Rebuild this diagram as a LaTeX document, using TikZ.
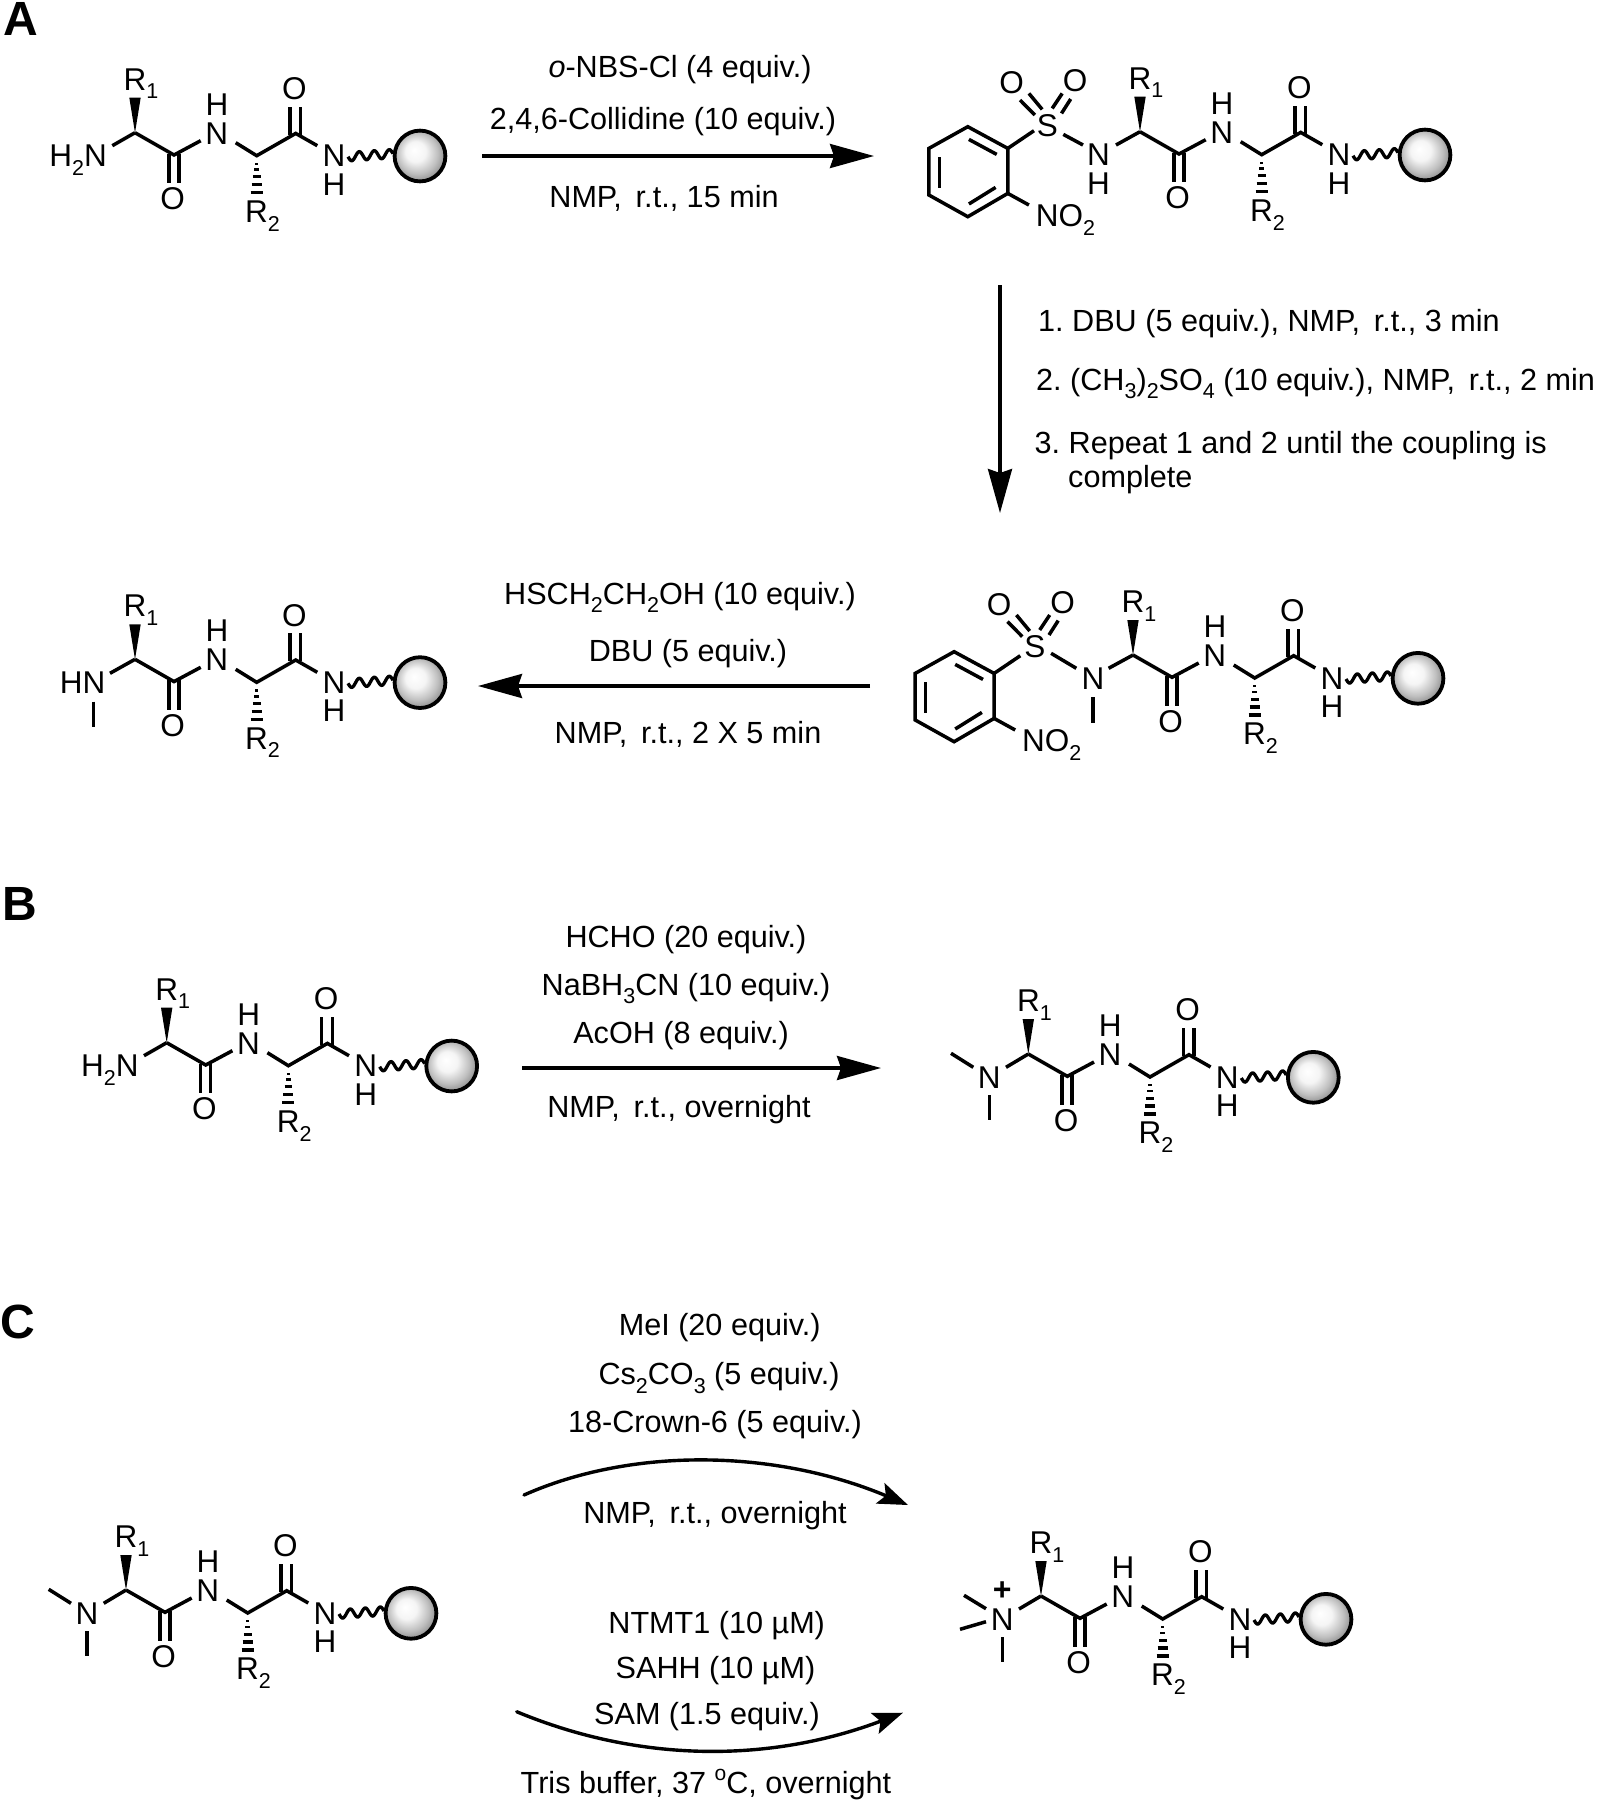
\documentclass[tikz,border=0pt]{standalone}
\usepackage{fontspec}
\setmainfont{Liberation Sans}
\usetikzlibrary{arrows.meta}
\pgfdeclareradialshading{ballsh}{\pgfpoint{-6bp}{6bp}}{color(0bp)=(white);color(10bp)=(white!96!black);color(20bp)=(white!75!black);color(29bp)=(white!50!black);color(36bp)=(white!15!black)}
\newcommand\chsub[1]{\raisebox{-0.28em}{\fontsize{21.5}{22}\selectfont #1}}
\newcommand\nmprt{NMP,\hspace{0.45em}r.t.,}
\tikzset{
  x=1pt,y=-1pt,
  bond/.style={line width=3.5pt,line cap=butt,line join=miter},
  atom/.style={inner sep=0pt,anchor=base,font=\fontsize{31.5}{34}\selectfont},
  atomw/.style={inner sep=0pt,anchor=base west,font=\fontsize{31.5}{34}\selectfont},
  atome/.style={inner sep=0pt,anchor=base east,font=\fontsize{31.5}{34}\selectfont},
  reagent/.style={inner sep=0pt,anchor=base,font=\fontsize{30.6}{34}\selectfont},
  reagentw/.style={inner sep=0pt,anchor=base west,font=\fontsize{30.6}{34}\selectfont},
  panel/.style={inner sep=0pt,anchor=base west,font=\fontsize{48}{50}\selectfont\bfseries},
  rxn/.style={line width=3.4pt,-{Stealth[length=44pt,width=24pt,inset=4pt]}},
  rxnc/.style={line width=3.4pt,line cap=round,-{Stealth[length=30pt,width=22pt,inset=6pt]}},
  backbone/.pic={
    \coordinate (-ca) at (0,0);
    \node[atomw] (-r1) at (-11.5,-42.7) {R\chsub{1}};
    \fill (0,0) -- (-5.7,-35) -- (5.7,-35) -- cycle;
    \draw[bond] (0,0) -- (39,22.3) -- (65.7,8);
    \draw[bond] (33.8,21) -- (33.8,50.7);
    \draw[bond] (43.8,21) -- (43.8,50.7);
    \node[atom] (-o1) at (37.7,77) {O};
    \node[atom] (-n1) at (81.7,11.3) {N};
    \node[atom] (-h1) at (82,-17.7) {H};
    \draw[bond] (100.7,10) -- (121.7,23) -- (160.7,0.7) -- (182.3,13);
    \draw[bond] (155,2) -- (155,-26);
    \draw[bond] (165.7,2) -- (165.7,-26);
    \node[atom] (-o2) at (159.3,-33.3) {O};
    \foreach \d/\w/\t in {8/1.6/2.4,14/2.6/2.7,21/3.8/3,29/5/3.2,37/6/3.4}
      \draw[line width=\t pt] (121.7-\w,23+\d) -- (121.7+\w,23+\d);
    \node[atomw] (-r2) at (110,89.7) {R\chsub{2}};
    \node[atom] (-n2) at (199,34) {N};
    \node[atom] (-h2) at (199,62.3) {H};
    \draw[line width=3.3pt] plot[domain=0:1,samples=60,smooth] ({213+45*\x},{24-3*\x+4.3*sin(1080*\x)});
    \shade[shading=ballsh,draw=black,line width=3.8pt] (285,23.3) circle[radius=25.4];
  },
  htwon/.pic={
    \node[atome] (-n) at (-28,34) {H\chsub{2}N};
    \draw[bond] (-22.7,13) -- (0,0);
  },
  nhme/.pic={
    \node[atome] (-n) at (-29.5,34) {HN};
    \draw[bond] (-25,14) -- (0,0);
    \draw[bond] (-41.7,42.3) -- (-41.7,68);
  },
  nmetwo/.pic={
    \node[atom] (-n) at (-39,34.5) {N};
    \draw[bond] (-22.3,13.3) -- (0,0);
    \draw[bond] (-55,13.3) -- (-77.3,-0.7);
    \draw[bond] (-39,41) -- (-39,66);
  },
  nmethree/.pic={
    \node[atom] (-n) at (-38.7,34.5) {N};
    \node[inner sep=0pt,font=\fontsize{32}{32}\selectfont\bfseries] (-plus) at (-38.7,-5) {+};
    \draw[bond] (-22,13) -- (0,0);
    \draw[bond] (-55,12.7) -- (-77,-0.7);
    \draw[bond] (-55,25.7) -- (-81,33.3);
    \draw[bond] (-38.7,41.3) -- (-38.7,66.3);
  },
  sulfonyl/.pic={
    \node[atom] (-s) at (-92.6,4.3) {S};
    \node[atom] (-ol) at (-128.5,-38.3) {O};
    \node[atom] (-or) at (-64.8,-40) {O};
    \draw[bond] (-120,-31.7) -- (-105.2,-16.7);
    \draw[bond] (-111.1,-38.3) -- (-97.8,-22.3);
    \draw[bond] (-87.8,-23.3) -- (-77.8,-38.3);
    \draw[bond] (-78.5,-18.3) -- (-69.3,-32.7);
  },
  aryl/.pic={
    \draw[bond] (-132.2,16.7) -- (-172.2,-5) -- (-211.1,16.7) -- (-211.1,63.3) -- (-172.2,85) -- (-132.2,61.7) -- cycle;
    \draw[bond] (-143.3,22.7) -- (-171.1,7.7);
    \draw[bond] (-200.7,25.7) -- (-200.7,56.7);
    \draw[bond] (-171.1,72.3) -- (-144.4,55.7);
    \draw[bond] (-132.2,16.7) -- (-106,-1);
    \draw[bond] (-132.2,61.7) -- (-111.1,73.3);
    \node[atomw] (-no) at (-104.4,95) {NO\chsub{2}};
  },
}
\begin{document}
\begin{tikzpicture}
\useasboundingbox (0,0) rectangle (1599,1800);
% Panel letters
\node[panel] (pa) at (3,35) {A};
\node[panel] (pb) at (2,920) {B};
\node[panel] (pc) at (0,1338) {C};
% A1
\pic (a1) at (135,132.7) {backbone};
\pic (a1l) at (135,132.7) {htwon};
% A2
\pic (a2) at (1140,131.7) {backbone};
\pic (a2s) at (1140,131.7) {sulfonyl};
\pic (a2r) at (1140,131.7) {aryl};
\node[atom] (a2n) at (1098.5,165.5) {N};
\node[atom] (a2h) at (1098.5,194.5) {H};
\draw[bond] (1116,145) -- (1140,131.7);
\draw[bond] (1083,145) -- (1063.3,134.4);
% A3
\pic (a3) at (1133,655) {backbone};
\pic (a3s) at ({1133-5.5},{655-1.7}) {sulfonyl};
\pic (a3r) at ({1133-6.7},{655+1.7}) {aryl};
\node[atom] (a3n) at (1093,689.3) {N};
\draw[bond] (1108.6,668.3) -- (1133,655);
\draw[bond] (1076.3,668.3) -- (1051.1,653.3);
\draw[bond] (1093,697.3) -- (1093,723.3);
% A4
\pic (a4) at (135,659.3) {backbone};
\pic (a4l) at (135,659.3) {nhme};
% B
\pic (b1) at (166.7,1042.7) {backbone};
\pic (b1l) at (166.7,1042.7) {htwon};
\pic (b2) at (1028.3,1054) {backbone};
\pic (b2l) at (1028.3,1054) {nmetwo};
% C
\pic (c1) at (126,1590) {backbone};
\pic (c1l) at (126,1590) {nmetwo};
\pic (c2) at (1041,1596) {backbone};
\pic (c2l) at (1041,1596) {nmethree};
% arrow end points
\coordinate (ar1s) at (482,156); \coordinate (ar1e) at (874,156);
\coordinate (ar2s) at (1000,285); \coordinate (ar2e) at (1000,513);
\coordinate (ar3s) at (870,686); \coordinate (ar3e) at (478,686);
\coordinate (ar4s) at (522,1068); \coordinate (ar4e) at (881,1068);
\coordinate (ar5s) at (524,1495); \coordinate (ar5e) at (908,1505);
\coordinate (ar6s) at (516.7,1711.7); \coordinate (ar6e) at (903,1712.7);
\draw[rxn] (ar1s) -- (ar1e);
\draw[rxn] (ar2s) -- (ar2e);
\draw[rxn] (ar3s) -- (ar3e);
\draw[rxn] (ar4s) -- (ar4e);
\draw[rxnc] (ar5s) .. controls (632,1447) and (775,1449) .. (ar5e);
\draw[rxnc] (ar6s) .. controls (640,1763) and (770,1763) .. (ar6e);
% Reagents
\node[reagent] (t1) at (680,77) {\textit{o}-NBS-Cl (4 equiv.)};
\node[reagent] (t2) at (663,129) {2,4,6-Collidine (10 equiv.)};
\node[reagent] (t3) at (664,207) {\nmprt{} 15 min};
\node[reagentw] (t4) at (1038,331.7) {1.\ DBU (5 equiv.), \nmprt{} 3 min};
\node[reagentw] (t5) at (1036,390) {2.\ (CH\chsub{3})\chsub{2}SO\chsub{4} (10 equiv.), \nmprt{} 2 min};
\node[reagentw] (t6) at (1034.5,453) {3.\ Repeat 1 and 2 until the coupling is};
\node[reagentw] (t7) at (1068,487) {complete};
\node[reagent] (t8) at (680,604) {HSCH\chsub{2}CH\chsub{2}OH (10 equiv.)};
\node[reagent] (t9) at (688,661) {DBU (5 equiv.)};
\node[reagent] (t10) at (688,743) {\nmprt{} 2 X 5 min};
\node[reagent] (t11) at (686,947) {HCHO (20 equiv.)};
\node[reagent] (t12) at (686,995) {NaBH\chsub{3}CN (10 equiv.)};
\node[reagent] (t13) at (681,1043) {AcOH (8 equiv.)};
\node[reagent] (t14) at (679,1117) {\nmprt{} overnight};
\node[reagent] (t15) at (719.7,1335.5) {MeI (20 equiv.)};
\node[reagent] (t16) at (719,1384.5) {Cs\chsub{2}CO\chsub{3} (5 equiv.)};
\node[reagent] (t17) at (715,1432) {18-Crown-6 (5 equiv.)};
\node[reagent] (t18) at (715,1523.5) {\nmprt{} overnight};
\node[reagent] (t19) at (716.7,1633) {NTMT1 (10 µM)};
\node[reagent] (t20) at (715.5,1678.5) {SAHH (10 µM)};
\node[reagent] (t21) at (707,1724.5) {SAM (1.5 equiv.)};
\node[reagent] (t22) at (706,1793.5) {Tris buffer, 37 \raisebox{0.42em}{\fontsize{21}{21}\selectfont o}C, overnight};
\end{tikzpicture}
\end{document}
